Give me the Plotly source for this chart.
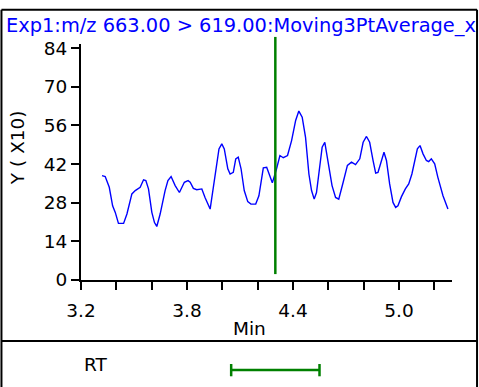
import plotly.graph_objects as go

# Chromatogram (Moving 3-pt average), Y in units of X10
time_min = [3.319, 3.337, 3.360, 3.379, 3.394, 3.412, 3.441, 3.460, 3.488, 3.507,
            3.535, 3.554, 3.567, 3.582, 3.601, 3.616, 3.629, 3.648, 3.676, 3.692,
            3.710, 3.733, 3.757, 3.785, 3.806, 3.818, 3.836, 3.855, 3.884, 3.902,
            3.931, 3.959, 3.981, 3.997, 4.011, 4.031, 4.044, 4.062, 4.076, 4.090,
            4.106, 4.124, 4.144, 4.162, 4.189, 4.207, 4.232, 4.251, 4.270, 4.283,
            4.307, 4.326, 4.345, 4.369, 4.392, 4.415, 4.433, 4.452, 4.471, 4.490,
            4.505, 4.520, 4.533, 4.552, 4.565, 4.580, 4.599, 4.621, 4.641, 4.659,
            4.684, 4.708, 4.731, 4.754, 4.778, 4.797, 4.816, 4.834, 4.853, 4.868,
            4.881, 4.901, 4.915, 4.929, 4.947, 4.966, 4.981, 4.994, 5.014, 5.036,
            5.055, 5.073, 5.089, 5.104, 5.119, 5.136, 5.155, 5.168, 5.183, 5.202,
            5.220, 5.249, 5.277]
intensity = [37.8, 37.5, 33.6, 26.9, 24.5, 20.5, 20.5, 23.9, 31.2, 32.4,
             33.6, 36.3, 36.0, 33.0, 24.5, 20.8, 19.4, 23.9, 32.4, 36.0,
             37.5, 34.2, 31.7, 35.4, 36.0, 35.4, 33.2, 32.7, 33.0, 29.9,
             25.7, 37.2, 47.5, 49.3, 47.5, 40.3, 38.4, 39.0, 43.9, 44.5,
             40.3, 32.4, 28.4, 27.5, 27.5, 30.5, 40.6, 40.8, 37.0, 35.2,
             40.3, 45.1, 44.3, 45.1, 50.5, 57.8, 61.2, 59.0, 51.7, 38.4,
             32.4, 29.3, 31.7, 42.7, 48.1, 49.9, 43.3, 34.2, 29.9, 29.3,
             35.4, 41.5, 42.7, 41.8, 43.9, 49.9, 52.0, 49.9, 43.3, 38.7,
             39.0, 43.9, 46.3, 43.3, 34.8, 28.1, 26.3, 26.9, 30.2, 33.0,
             34.8, 38.4, 43.3, 47.5, 48.7, 45.7, 43.3, 42.9, 43.9, 42.1,
             37.2, 30.5, 25.7]

x_tick_vals = [3.2, 3.4, 3.6, 3.8, 4.0, 4.2, 4.4, 4.6, 4.8, 5.0, 5.2]
x_tick_text = ["3.2", "", "", "3.8", "", "", "4.4", "", "", "5.0", ""]
y_tick_vals = [0, 14, 28, 42, 56, 70, 84]

marker_rt = 4.30          # green vertical marker
rt_window = [4.05, 4.55]  # RT range bar

title_text = "Exp1:m/z 663.00 > 619.00:Moving3PtAverage_x"

FONT = "DejaVu Sans, Liberation Sans, Arial, sans-serif"
FS = 18.5
BLUE = "#0000FF"
GREEN = "#008000"

fig = go.Figure()
fig.add_trace(go.Scatter(x=time_min, y=intensity, mode="lines",
                         line=dict(color=BLUE, width=1.4), hoverinfo="skip",
                         showlegend=False))

shapes = []
# outer frame and separator (paper coords)
shapes.append(dict(type="line", xref="paper", yref="paper", x0=-0.2144, x1=1.0675,
                   y0=1.1452, y1=1.1452, line=dict(color="black", width=2)))
shapes.append(dict(type="line", xref="paper", yref="paper", x0=-0.2144, x1=-0.2144,
                   y0=1.1452, y1=-0.48, line=dict(color="black", width=2)))
shapes.append(dict(type="line", xref="paper", yref="paper", x0=1.0675, x1=1.0675,
                   y0=1.1452, y1=-0.48, line=dict(color="black", width=2)))
shapes.append(dict(type="line", xref="paper", yref="paper", x0=-0.2144, x1=1.0675,
                   y0=-0.2583, y1=-0.2583, line=dict(color="black", width=2)))
# green marker line
shapes.append(dict(type="line", xref="x", yref="paper", x0=marker_rt, x1=marker_rt,
                   y0=0.025, y1=1.03, line=dict(color=GREEN, width=2.5)))
# RT window bar with end caps
shapes.append(dict(type="line", xref="x", yref="paper", x0=rt_window[0], x1=rt_window[1],
                   y0=-0.381, y1=-0.381, line=dict(color=GREEN, width=2.5)))
for xv in rt_window:
    shapes.append(dict(type="line", xref="x", yref="paper", x0=xv, x1=xv,
                       y0=-0.356, y1=-0.408, line=dict(color=GREEN, width=2.5)))

annotations = [
    dict(text=title_text, xref="paper", yref="paper", x=-0.2064, y=1.0796,
         xanchor="left", yanchor="middle", showarrow=False,
         font=dict(family=FONT, size=19.4, color=BLUE)),
    dict(text="Y ( X10)", xref="paper", yref="paper", x=-0.169, y=0.56,
         xanchor="center", yanchor="middle", textangle=-90, showarrow=False,
         font=dict(family=FONT, size=FS, color="black")),
    dict(text="Min", xref="paper", yref="paper", x=0.4555, y=-0.205,
         xanchor="center", yanchor="middle", showarrow=False,
         font=dict(family=FONT, size=FS, color="black")),
    dict(text="RT", xref="paper", yref="paper", x=0.041, y=-0.36,
         xanchor="center", yanchor="middle", showarrow=False,
         font=dict(family=FONT, size=FS, color="black")),
]

fig.update_layout(
    width=479, height=387,
    margin=dict(l=80.7, r=26.6, t=43.8, b=107, pad=0),
    paper_bgcolor="white", plot_bgcolor="white",
    font=dict(family=FONT, size=FS, color="black"),
    shapes=shapes, annotations=annotations,
    xaxis=dict(range=[3.2, 5.3], tickmode="array", tickvals=x_tick_vals,
               ticktext=x_tick_text, ticks="outside", ticklen=8, tickwidth=2,
               tickcolor="black", showline=True, linecolor="black", linewidth=2,
               showgrid=False, zeroline=False, ticklabelstandoff=5,
               tickfont=dict(family=FONT, size=FS, color="black")),
    yaxis=dict(range=[0, 85.5], tickmode="array", tickvals=y_tick_vals,
               ticks="outside", ticklen=8, tickwidth=2, tickcolor="black",
               showline=True, linecolor="black", linewidth=2, showgrid=False,
               zeroline=False, ticklabelstandoff=0,
               tickfont=dict(family=FONT, size=FS, color="black")),
)

fig.write_html("out.html", config={"displayModeBar": False},
               post_script="document.body.style.margin='0';")
